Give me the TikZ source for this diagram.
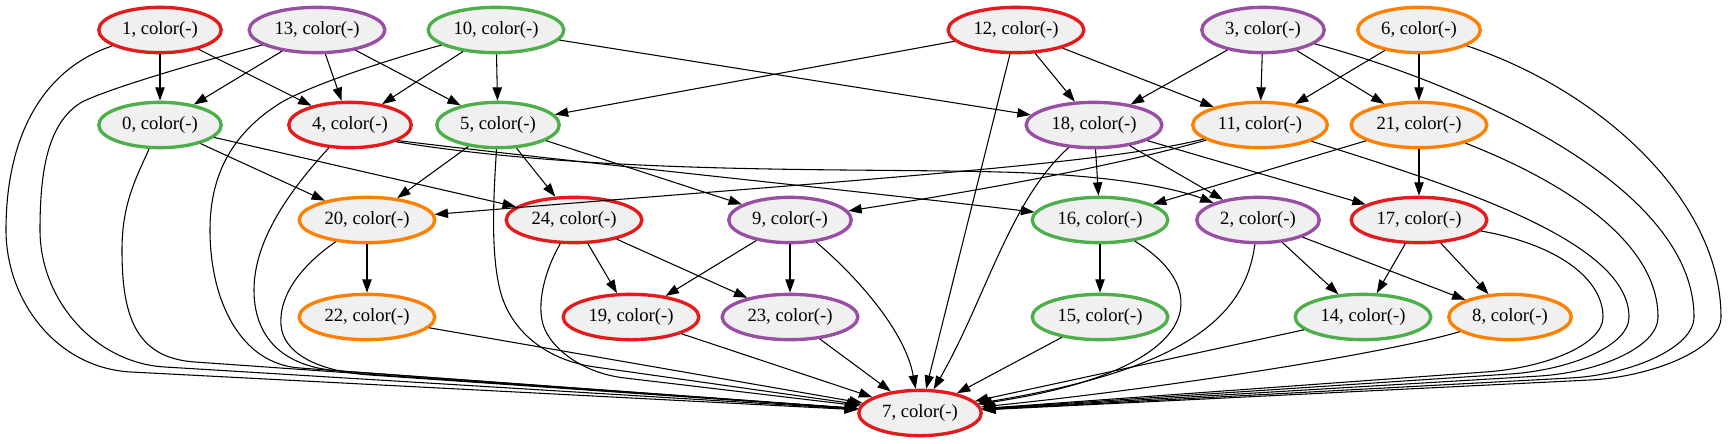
\documentclass[tikz,border=0pt]{standalone}
\usepackage{fontspec}
\setmainfont{Liberation Serif}
\usetikzlibrary{shapes.geometric,arrows.meta}
\definecolor{setred}{HTML}{E41A1C}
\definecolor{setpurple}{HTML}{984EA3}
\definecolor{setgreen}{HTML}{4DAF4A}
\definecolor{setorange}{HTML}{FF7F00}
\definecolor{nodefill}{HTML}{F0F0F0}
\begin{document}
\begin{tikzpicture}[x=0.75pt,y=-0.75pt,
    vertex/.style={ellipse,draw,line width=2.5pt,fill=nodefill,
	minimum height=34pt,inner xsep=4.1pt,inner ysep=1pt,
	font=\fontsize{14pt}{16pt}\selectfont},
    vred/.style={vertex,draw=setred},
    vpurple/.style={vertex,draw=setpurple},
    vgreen/.style={vertex,draw=setgreen},
    vorange/.style={vertex,draw=setorange},
    flow/.style={-{Triangle[length=10pt,width=7pt]},line width=0.8pt}]
\useasboundingbox (0,0) rectangle (1728,443);
\path
    (160,30)  node (n1)  [vred]    {1, color(-)}
    (317,30)  node (n13) [vpurple] {13, color(-)}
    (496,30)  node (n10) [vgreen]  {10, color(-)}
    (1016,30) node (n12) [vred]    {12, color(-)}
    (1263,30) node (n3)  [vpurple] {3, color(-)}
    (1419,30) node (n6)  [vorange] {6, color(-)}
    (160,125)  node (n0)  [vgreen]  {0, color(-)}
    (350,125)  node (n4)  [vred]    {4, color(-)}
    (498,125)  node (n5)  [vgreen]  {5, color(-)}
    (1094,125) node (n18) [vpurple] {18, color(-)}
    (1260,125) node (n11) [vorange] {11, color(-)}
    (1419,125) node (n21) [vorange] {21, color(-)}
    (367,220)  node (n20) [vorange] {20, color(-)}
    (574,220)  node (n24) [vred]    {24, color(-)}
    (790,220)  node (n9)  [vpurple] {9, color(-)}
    (1100,220) node (n16) [vgreen]  {16, color(-)}
    (1258,220) node (n2)  [vpurple] {2, color(-)}
    (1419,220) node (n17) [vred]    {17, color(-)}
    (367,317)  node (n22) [vorange] {22, color(-)}
    (631,317)  node (n19) [vred]    {19, color(-)}
    (790,317)  node (n23) [vpurple] {23, color(-)}
    (1100,317) node (n15) [vgreen]  {15, color(-)}
    (1363,317) node (n14) [vgreen]  {14, color(-)}
    (1510,317) node (n8)  [vorange] {8, color(-)}
    (920,413)  node (n7)  [vred]    {7, color(-)};
\path[flow]
    (n1) edge (n0) edge (n4)
    (n13) edge (n0) edge (n4) edge (n5)
    (n10) edge (n4) edge (n5) edge (n18)
    (n12) edge (n5) edge (n18) edge (n11) edge (n7)
    (n3) edge (n18) edge (n11) edge (n21)
    (n6) edge (n11) edge (n21)
    (n0) edge (n20) edge (n24)
    (n5) edge (n20) edge (n24) edge (n9)
    (n18) edge (n16) edge (n2) edge (n17)
    (n21) edge (n16) edge (n17)
    (n20) edge (n22)
    (n24) edge (n19) edge (n23)
    (n9) edge (n19) edge (n23)
    (n16) edge (n15)
    (n2) edge (n14) edge (n8)
    (n17) edge (n14) edge (n8)
    (n22) edge (n7) (n19) edge (n7) (n23) edge (n7)
    (n15) edge (n7) (n14) edge (n7);
\draw[flow] (n4.-20) .. controls (600,175) and (850,168) .. (1000,172)
    .. controls (1120,175) and (1180,190) .. (n2);
\draw[flow] (n4.-18) .. controls (600,165) and (850,190) .. (n16);
\draw[flow] (n11) .. controls (1100,165) and (850,180) .. (n20);
\draw[flow] (n11) .. controls (1100,170) and (950,195) .. (n9);
\draw[flow] (n1) .. controls (40,70) and (6,140) .. (6,230)
    .. controls (6,300) and (56,368) .. (131,372) -- (n7);
\draw[flow] (n13) .. controls (200,62) and (110,88) .. (82,102)
    .. controls (48,122) and (40,170) .. (40,230)
    .. controls (40,300) and (95,363) .. (165,367) -- (n7);
\draw[flow] (n0) .. controls (135,180) and (122,205) .. (122,250)
    .. controls (122,315) and (135,358) .. (195,362) -- (n7);
\draw[flow] (n10) .. controls (380,62) and (310,86) .. (282,102)
    .. controls (228,135) and (210,180) .. (210,230)
    .. controls (210,300) and (240,364) .. (300,368) -- (n7);
\draw[flow] (n4) .. controls (290,190) and (254,240) .. (254,290)
    .. controls (254,335) and (280,367) .. (340,371) -- (n7);
\draw[flow] (n20) .. controls (295,270) and (279,300) .. (281,325)
    .. controls (283,352) and (315,371) .. (370,375) -- (n7);
\draw[flow] (n5) .. controls (494,190) and (490,250) .. (500,290)
    .. controls (510,330) and (545,360) .. (595,367) -- (n7);
\draw[flow] (n24) .. controls (545,270) and (538,300) .. (542,320)
    .. controls (546,345) and (580,373) .. (625,378) -- (n7);
\draw[flow] (n9) .. controls (855,275) and (905,330) .. (n7);
\draw[flow] (n18) .. controls (1010,200) and (985,300) .. (n7);
\draw[flow] (n16) .. controls (1215,290) and (1205,370) .. (n7);
\draw[flow] (n2) .. controls (1245,320) and (1180,370) .. (n7);
\draw[flow] (n8) .. controls (1380,355) and (1150,390) .. (n7);
\draw[flow] (n17) .. controls (1560,245) and (1603,280) .. (1603,317)
    .. controls (1603,345) and (1545,368) .. (1485,372) -- (n7);
\draw[flow] (n11) .. controls (1450,185) and (1629,240) .. (1629,317)
    .. controls (1629,346) and (1570,370) .. (1510,374) -- (n7);
\draw[flow] (n21) .. controls (1560,180) and (1658,240) .. (1658,317)
    .. controls (1658,347) and (1600,372) .. (1540,376) -- (n7);
\draw[flow] (n3) .. controls (1450,80) and (1694,180) .. (1694,317)
    .. controls (1694,348) and (1630,375) .. (1570,378) -- (n7);
\draw[flow] (n6) .. controls (1600,90) and (1721,200) .. (1721,317)
    .. controls (1721,350) and (1650,377) .. (1590,380) -- (n7);
\end{tikzpicture}
\end{document}
